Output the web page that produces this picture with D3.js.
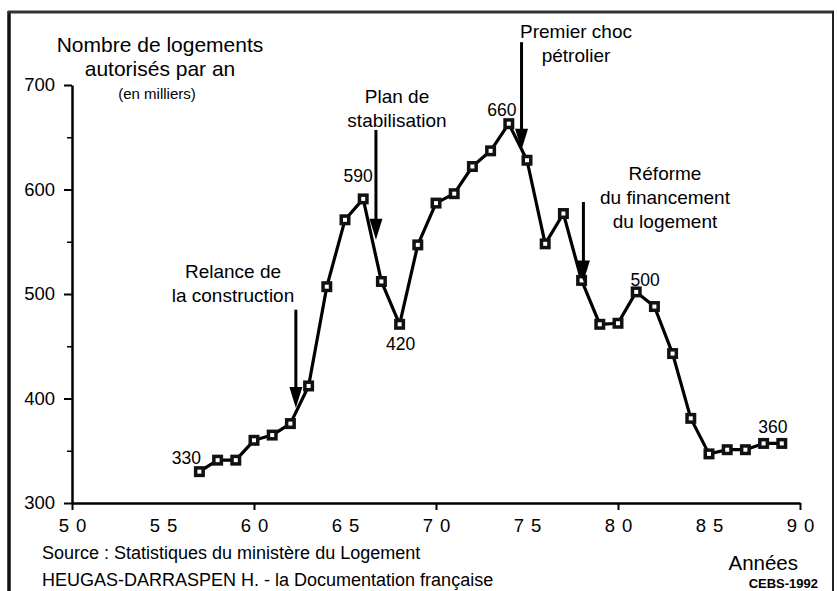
<!DOCTYPE html>
<html><head><meta charset="utf-8">
<script src="https://cdn.jsdelivr.net/npm/d3@7"></script>
<style>
html,body{margin:0;padding:0;background:#fff;}
svg{display:block;font-family:"Liberation Sans",Arial,Helvetica,sans-serif;}
</style></head>
<body>
<script>
// ---- data ----
const years  = [57,58,59,60,61,62,63,64,65,66,67,68,69,70,71,72,73,74,75,76,77,78,79,80,81,82,83,84,85,86,87,88,89];
const values = [330,341,341,360,365,376,412,507,571,591,512,471,547,587,596,622,637,663,628,548,577,513,471,472,502,488,443,381,347,351,351,357,357];
const yTickValues = [300,400,500,600,700];
const yMinorTicks = [350,450,550,650];
const xTickLabels = [50,55,60,65,70,75,80,85,90];
const xTickMarks = [50,60,70,80,90];
const pointLabelYears = [57,66,68,74,81,89];
const pointLabelTexts = ["330","590","420","660","500","360"];
const eventYears = [62.3,66.7,74.7,78.1];
const eventFrom  = [485,657,741,588];
const eventTo    = [391,552,638,512];
const eventTexts = [["Relance de","la construction"],["Plan de","stabilisation"],["Premier choc","pétrolier"],["Réforme","du financement","du logement"]];
const titleLines = ["Nombre de logements","autorisés par an"];
const unitText = "(en milliers)";
const sourceLines = ["Source : Statistiques du ministère du Logement","HEUGAS-DARRASPEN H. - la Documentation française"];

const W=838,H=591;
const svg=d3.select("body").append("svg").attr("width",W).attr("height",H);

// frame (scanned border)
svg.append("line").attr("x1",9).attr("x2",9).attr("y1",11).attr("y2",H).attr("stroke","#111").attr("stroke-width",3.5);
svg.append("line").attr("x1",8).attr("x2",834).attr("y1",12).attr("y2",12).attr("stroke","#333").attr("stroke-width",3);
svg.append("line").attr("x1",833).attr("x2",833).attr("y1",11).attr("y2",H).attr("stroke","#222").attr("stroke-width",2);

const x=d3.scaleLinear().domain([50,90]).range([72,800]);
const y=d3.scaleLinear().domain([300,700]).range([503,85]);

// y axis
const yAxis=d3.axisLeft(y).tickValues(yTickValues).tickSize(8).tickSizeOuter(0).tickPadding(9).tickFormat(d3.format("d"));
const gy=svg.append("g").attr("transform","translate(72,0)").call(yAxis);
gy.select(".domain").attr("stroke","#000").attr("stroke-width",2.5);
gy.selectAll(".tick line").attr("stroke","#000").attr("stroke-width",2);
gy.selectAll(".tick text").attr("font-size",18.5).attr("fill","#000").attr("font-family","Liberation Sans, Arial, sans-serif");
const gym=svg.append("g").attr("transform","translate(72,0)").call(d3.axisLeft(y).tickValues(yMinorTicks).tickSize(5).tickSizeOuter(0).tickFormat(""));
gym.select(".domain").remove();
gym.selectAll(".tick line").attr("stroke","#000").attr("stroke-width",1.5);

// x axis
const gx=svg.append("g").attr("transform","translate(0,503)").call(d3.axisBottom(x).tickValues(xTickMarks).tickSize(7).tickSizeOuter(0).tickFormat(""));
gx.select(".domain").attr("stroke","#000").attr("stroke-width",2.5);
gx.selectAll(".tick line").attr("stroke","#000").attr("stroke-width",2);
svg.append("g").selectAll("text").data(xTickLabels).join("text")
  .attr("x",d=>x(d)+4).attr("y",532).attr("text-anchor","middle")
  .attr("font-size",18.5).attr("letter-spacing","7px").text(d=>d);

// line
const line=d3.line().x((d,i)=>x(years[i])).y(d=>y(d));
svg.append("path").datum(values).attr("d",line).attr("fill","none").attr("stroke","#000").attr("stroke-width",3.2).attr("stroke-linejoin","round");
// markers
const pts=svg.append("g").selectAll("g").data(values).join("g")
  .attr("transform",(d,i)=>`translate(${x(years[i])},${y(d)})`);
pts.append("rect").attr("x",-5.5).attr("y",-5.5).attr("width",11).attr("height",11).attr("fill","#111");
pts.append("rect").attr("x",-2).attr("y",-2).attr("width",4).attr("height",4).attr("fill","#fff");

// point labels
const lblDx=[-13,-5,1,-7,9,-9];
const lblDy=[-8,-17,26,-8,-6,-10];
svg.append("g").selectAll("text").data(pointLabelYears).join("text")
  .attr("x",(d,i)=>x(d)+lblDx[i])
  .attr("y",(d,i)=>y(values[years.indexOf(d)])+lblDy[i])
  .attr("text-anchor","middle").attr("font-size",17.5).text((d,i)=>pointLabelTexts[i]);

// event arrows
eventYears.forEach((ey,i)=>{
  const ax=x(ey), y1=y(eventFrom[i]), y2=y(eventTo[i]);
  svg.append("line").attr("x1",ax).attr("x2",ax).attr("y1",y1).attr("y2",y2-18).attr("stroke","#000").attr("stroke-width",3);
  svg.append("path").attr("d",`M${ax-6.5},${y2-21}L${ax+6.5},${y2-21}L${ax},${y2}Z`).attr("fill","#000");
});
// event texts
const evX=[233,397,576,665];
const evY=[278,103,38,180];
eventTexts.forEach((lines,i)=>{
  lines.forEach((t,j)=>{
    svg.append("text").attr("x",evX[i]).attr("y",evY[i]+j*24).attr("text-anchor","middle").attr("font-size",19).text(t);
  });
});

// title
titleLines.forEach((t,j)=>svg.append("text").attr("x",160).attr("y",52+j*24).attr("text-anchor","middle").attr("font-size",21).text(t));
svg.append("text").attr("x",157).attr("y",99).attr("text-anchor","middle").attr("font-size",15).text(unitText);

// footer
sourceLines.forEach((t,j)=>svg.append("text").attr("x",42).attr("y",559+j*27).attr("font-size",18).text(t));
svg.append("text").attr("x",798).attr("y",570).attr("text-anchor","end").attr("font-size",20.5).text("Années");
svg.append("text").attr("x",818).attr("y",588).attr("text-anchor","end").attr("font-size",13).attr("font-weight","bold").text("CEBS-1992");
</script>
</body></html>
